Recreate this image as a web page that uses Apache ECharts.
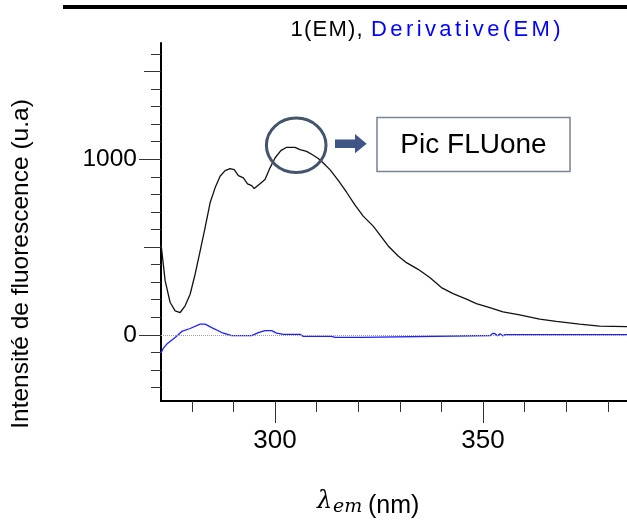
<!DOCTYPE html>
<html><head><meta charset="utf-8">
<script src="https://cdn.jsdelivr.net/npm/echarts@6/dist/echarts.min.js"></script>
<style>html,body{margin:0;padding:0;background:#fff}#c{width:627px;height:521px}</style>
</head><body><div id="c"></div>
<script>
// ---- data ----
const emWavelength = [272.6, 273.6, 274.8, 276.0, 277.2, 278.4, 279.6, 280.8, 282.0, 283.2, 284.4, 285.6, 286.8, 288.0, 289.2, 290.2, 291.2, 292.4, 293.4, 294.4, 295.0, 296.4, 297.6, 298.8, 300.0, 301.4, 302.8, 304.8, 306.0, 307.6, 309.2, 310.4, 311.6, 313.2, 315.2, 317.2, 319.2, 321.2, 323.6, 324.8, 327.2, 329.6, 331.6, 334.4, 337.2, 340.0, 342.8, 346.0, 348.4, 351.6, 354.8, 358.8, 363.6, 367.6, 373.2, 378.0, 384.6];
const emIntensity = [518, 307, 184, 136, 127, 165, 231, 345, 477, 610, 752, 837, 903, 935, 946, 941, 907, 894, 860, 850, 833, 860, 885, 951, 1007, 1049, 1068, 1068, 1055, 1045, 1023, 1004, 979, 941, 880, 812, 740, 676, 619, 582, 506, 449, 411, 373, 326, 269, 235, 203, 178, 155, 131, 114, 89, 76, 61, 49, 47];
const derivWavelength = [272.6, 273.1, 274.0, 276.0, 277.6, 279.6, 282.0, 283.2, 284.8, 287.2, 289.6, 294.4, 296.0, 297.6, 299.2, 300.4, 302.0, 306.0, 306.8, 313.6, 314.4, 321.0, 321.4, 351.8, 352.3, 352.9, 353.5, 354.1, 354.7, 355.3, 384.6];
const derivValue = [-104, -79, -53, -15, 19, 36, 61, 61, 41, 13, -5, -5, 12, 24, 24, 10, 3, 3, -9, -9, -15, -15, -4, -4, 8, 6, -6, 6, -6, 1, 1];
const xMinorTicks = [280, 290, 300, 310, 320, 330, 340, 350, 360, 370, 380];
const xMajorTicks = [300, 350];
const yMinorTicks = [-300, -200, -100, 0, 100, 200, 300, 400, 500, 600, 700, 800, 900, 1000, 1100, 1200, 1300, 1400, 1500, 1600];
const yMidTicks = [0, 500, 1000, 1500];
const yLabelTicks = [0, 1000];
const titleBlack = '1(EM), ';
const titleBlue = 'Derivative(EM)';
const yTitle = 'Intensité de fluorescence (u.a)';
const xTitleSymbol = 'λ';
const xTitleSub = 'em';
const xTitleUnit = '(nm)';
const annotationText = 'Pic FLUone';
const X_MIN = 272.6, X_MAX = 384.6, Y_MIN = -377, Y_MAX = 1662;

// ---- build ----
const zip = (a, b) => a.map((v, i) => [v, b[i]]);
const SANS = '"Liberation Sans", Arial, sans-serif';
const SERIF = '"DejaVu Serif", "Liberation Serif", serif';

function xAxisDef(ticks, len, withLabel, withLine) {
  return {
    type: 'value', min: X_MIN, max: X_MAX, position: 'bottom',
    axisLine: { show: withLine, onZero: false, lineStyle: { color: '#000', width: 2 } },
    axisTick: { show: true, customValues: ticks, length: len, lineStyle: { color: '#333', width: 1 } },
    axisLabel: withLabel ? { show: true, customValues: ticks, margin: 27, color: '#000', fontSize: 26, fontFamily: SANS, formatter: v => String(v) } : { show: false },
    splitLine: { show: false }
  };
}
function yAxisDef(ticks, len, withLabel, withLine) {
  return {
    type: 'value', min: Y_MIN, max: Y_MAX, position: 'left',
    axisLine: { show: withLine, onZero: false, lineStyle: { color: '#000', width: 2 } },
    axisTick: { show: true, customValues: ticks, length: len, lineStyle: { color: '#333', width: 1 } },
    axisLabel: withLabel ? { show: true, customValues: ticks, margin: 24, color: '#000', fontSize: 24.5, fontFamily: SANS, formatter: v => String(v) } : { show: false },
    splitLine: { show: false }
  };
}
function spaced(str, key) {
  return str.split('').map(c => c === ' ' ? '{sp| }' : '{' + key + '|' + c + '}').join('');
}

const chart = echarts.init(document.getElementById('c'), null, { renderer: 'canvas' });
chart.setOption({
  animation: false,
  backgroundColor: '#fff',
  grid: { left: 161, right: 0, top: 43, height: 358, containLabel: false },
  xAxis: [xAxisDef(xMinorTicks, 11, false, true), xAxisDef(xMajorTicks, 22, true, false)],
  yAxis: [yAxisDef(yMinorTicks, 10, false, true), yAxisDef(yMidTicks, 17, false, false), yAxisDef(yLabelTicks, 22, true, false)],
  series: [
    {
      type: 'line', name: '1(EM)', xAxisIndex: 0, yAxisIndex: 0,
      data: zip(emWavelength, emIntensity), showSymbol: false, symbol: 'none',
      lineStyle: { color: '#111', width: 1.3 }, z: 3,
      markLine: {
        silent: true, symbol: ['none', 'none'], label: { show: false },
        lineStyle: { type: 'dotted', color: '#a0a0a0', width: 1 },
        data: [{ yAxis: 0 }]
      }
    },
    {
      type: 'line', name: 'Derivative(EM)', xAxisIndex: 0, yAxisIndex: 0,
      data: zip(derivWavelength, derivValue), showSymbol: false, symbol: 'none',
      lineStyle: { color: '#2020ff', width: 1.3 }, z: 4
    }
  ],
  graphic: [
    { type: 'rect', shape: { x: 63, y: 5, width: 564, height: 4 }, style: { fill: '#000' } },
    {
      type: 'text', x: 290, y: 30,
      style: {
        text: spaced(titleBlack, 'a') + spaced(titleBlue, 'b'),
        verticalAlign: 'middle', align: 'left',
        rich: {
          a: { fill: '#000', fontSize: 22, fontFamily: SANS, padding: [0, 0.6, 0, 0.6] },
          b: { fill: '#0000ff', fontSize: 22, fontFamily: SANS, padding: [0, 1.7, 0, 1.7] },
          sp: { fontSize: 22, fontFamily: SANS, padding: [0, 0, 0, 0] }
        }
      }
    },
    {
      type: 'text', x: 21, y: 264, rotation: Math.PI / 2,
      style: { text: yTitle, fill: '#000', fontSize: 24.5, fontFamily: SANS, align: 'center', verticalAlign: 'middle' }
    },
    {
      type: 'text', x: 317, y: 502,
      style: { text: xTitleSymbol, fill: '#000', fontSize: 24, fontStyle: 'italic', fontFamily: SERIF, align: 'left', verticalAlign: 'middle' }
    },
    {
      type: 'text', x: 333, y: 507,
      style: { text: xTitleSub, fill: '#000', fontSize: 19, fontStyle: 'italic', fontFamily: SERIF, align: 'left', verticalAlign: 'middle' }
    },
    {
      type: 'text', x: 368, y: 506,
      style: { text: xTitleUnit, fill: '#000', fontSize: 25, fontFamily: SANS, align: 'left', verticalAlign: 'middle' }
    },
    {
      type: 'ellipse', shape: { cx: 296.2, cy: 145.3, rx: 29.8, ry: 27.2 },
      style: { fill: 'none', stroke: '#44546a', lineWidth: 3 }, z: 10
    },
    {
      type: 'polygon',
      shape: { points: [[335, 139.5], [355, 139.5], [355, 134], [366.7, 143.7], [355, 153.3], [355, 148], [335, 148]] },
      style: { fill: '#3e5585' }, z: 10
    },
    {
      type: 'rect', shape: { x: 377, y: 117.5, width: 193, height: 54 },
      style: { fill: '#fff', stroke: '#7a8393', lineWidth: 1.5 }, z: 10
    },
    {
      type: 'text', x: 473.5, y: 145, z: 11,
      style: { text: annotationText, fill: '#000', fontSize: 28, fontFamily: SANS, align: 'center', verticalAlign: 'middle' }
    }
  ]
});
</script>
</body></html>
